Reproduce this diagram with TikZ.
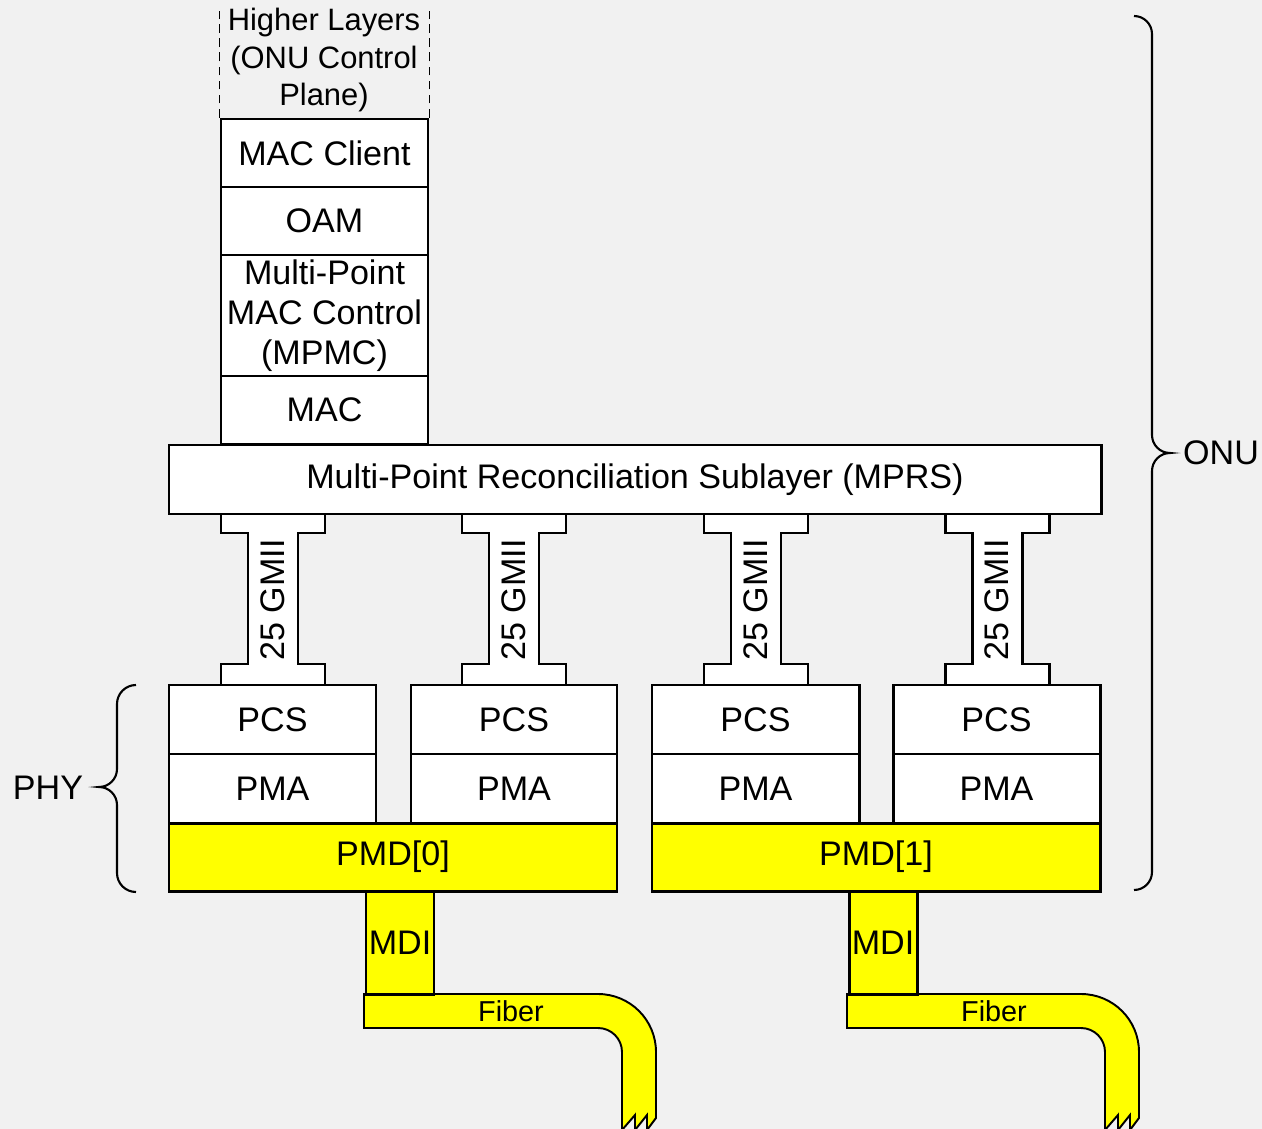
\documentclass[tikz,border=0pt]{standalone}
\usepackage{fontspec}
\setmainfont{Liberation Sans}
\definecolor{bg}{HTML}{F1F1F1}
\definecolor{pmdy}{HTML}{FFFF00}
\newcommand{\blkbox}[7]{\node[blk,#6, minimum width={(#4-#2)*0.02cm}, minimum height={(#5-#3)*0.02cm}] (#1) at ({(#2+#4)/2},{(#3+#5)/2}) {#7};}
\begin{document}
\begin{tikzpicture}[x=0.02cm,y=-0.02cm,
  lbl/.style={font=\fontsize{19.4}{22.7}\selectfont, inner sep=0pt, align=center},
  blk/.style={draw, line width=1.7pt, fill=white, inner sep=0pt, lbl},
  yel/.style={fill=pmdy},
  gm/.style={draw, line width=1.7pt, fill=white, line join=miter},
  fib/.style={draw, line width=1.1pt, fill=pmdy, line join=miter},
  brace/.style={draw, line width=1.2pt},
  dsh/.style={draw, line width=1.1pt, dash pattern=on 5pt off 3pt}]
\useasboundingbox (0,0) rectangle (1262,1129);
\fill[bg] (0,0) rectangle (1262,1129);

% GMII connectors
\foreach \cx [count=\i] in {273,514,756,997} {
  \draw[gm] ({\cx-52},514) -- ({\cx-52},533) -- ({\cx-25},533) -- ({\cx-25},664)
    -- ({\cx-52},664) -- ({\cx-52},685) -- ({\cx+52},685) -- ({\cx+52},664)
    -- ({\cx+25},664) -- ({\cx+25},533) -- ({\cx+52},533) -- ({\cx+52},514);
  \node[lbl, rotate=90] (g\i) at (\cx,600) {25 GMII};
}

% stack
\blkbox{mc}{221}{119}{428}{187}{}{MAC Client}
\blkbox{oam}{221}{187}{428}{255}{}{OAM}
\blkbox{mpmc}{221}{255}{428}{376}{}{Multi-Point\\MAC Control\\(MPMC)}
\blkbox{mac}{221}{376}{428}{444}{}{MAC}
\blkbox{mprs}{169}{445}{1101}{514}{}{Multi-Point Reconciliation Sublayer (MPRS)}

\draw[dsh] (mc.north west) -- ++(0,-107);
\draw[dsh] (mc.north east) -- ++(0,-107);
\node[lbl, font=\fontsize{17.6}{21.4}\selectfont] (hl) at (324,60) {Higher Layers\\(ONU Control\\Plane)};

% PHY stacks
\blkbox{pcsa}{169}{685}{376}{754}{}{PCS}
\blkbox{pmaa}{169}{754}{376}{823}{}{PMA}
\blkbox{pcsb}{411}{685}{617}{754}{}{PCS}
\blkbox{pmab}{411}{754}{617}{823}{}{PMA}
\blkbox{pcsc}{652}{685}{859}{754}{}{PCS}
\blkbox{pmac}{652}{754}{859}{823}{}{PMA}
\blkbox{pcsd}{893}{685}{1100}{754}{}{PCS}
\blkbox{pmad}{893}{754}{1100}{823}{}{PMA}
\blkbox{pmd0}{169}{823}{617}{891}{yel}{PMD[0]}
\blkbox{pmd1}{652}{823}{1100}{891}{yel}{PMD[1]}

% fibers and MDI
\foreach \dx [count=\i] in {0,483} {
  \draw[fib] ({364+\dx},994) -- ({598+\dx},994) arc (270:360:58)
    -- ({656+\dx},1118) -- ({647+\dx},1130) -- ({647+\dx},1115) -- ({635+\dx},1130)
    -- ({635+\dx},1115) -- ({622+\dx},1130) -- ({622+\dx},1052) arc (360:270:24)
    -- ({364+\dx},1028) -- cycle;
  \node[lbl, font=\fontsize{16.4}{19}\selectfont] (fib\i) at ({511+\dx},1011) {Fiber};
}
\blkbox{mdia}{366}{891}{434}{994}{yel}{MDI}
\blkbox{mdib}{849}{891}{917}{994}{yel}{MDI}

% braces
\draw[brace] (1134,16) arc (270:360:18) -- (1152,435) arc (180:90:18)
  arc (270:180:18) -- (1152,872) arc (0:90:18);
\node[lbl] (onu) at (1221,453) {ONU};
\draw[brace] (136,685) arc (270:180:19) -- (117,769) arc (0:90:18)
  arc (270:360:18) -- (117,873) arc (180:90:19);
\node[lbl] (phy) at (48,788) {PHY};
\end{tikzpicture}
\end{document}
